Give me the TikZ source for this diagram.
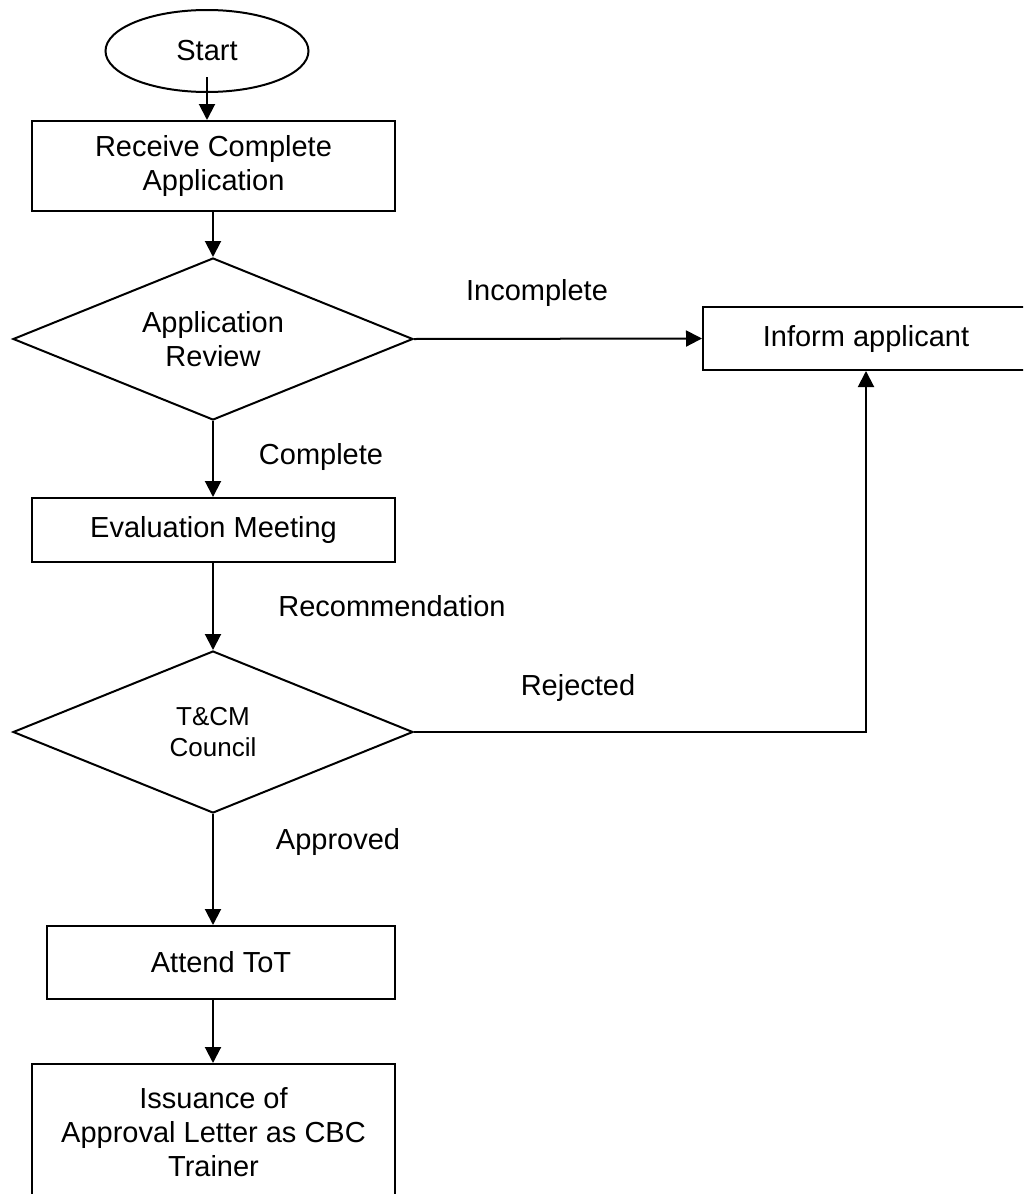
\documentclass[tikz,border=0pt]{standalone}
\usepackage{fontspec}
\setmainfont{Liberation Sans}
\usetikzlibrary{shapes.geometric,arrows.meta}

\begin{document}
\begin{tikzpicture}[x=0.5pt, y=-0.5pt,
    every node/.style={font=\fontsize{14.5}{17}\selectfont},
    stepbox/.style={draw, line width=1pt, rectangle, align=center, inner sep=0pt},
    decision/.style={draw, line width=1pt, diamond, aspect=2.47, align=center, inner sep=0pt,
        minimum width=200pt, minimum height=81pt},
    flow/.style={line width=1pt, -{Triangle[length=8pt, width=8pt]}}]
    \def\axis{213}

    % page frame
    \clip (0,0) rectangle (1023,1194);

    % Draw the boxes
    \node[draw, line width=1pt, ellipse, minimum width=101.5pt, minimum height=41pt, inner sep=0pt] (start) at (207,51) {Start};
    \node[stepbox, minimum width=181.5pt, minimum height=45pt] (receive) at (213.5,166) {Receive Complete\\Application};
    \node[decision] (review) at (\axis,339) {Application\\Review};
    \node[stepbox, minimum width=163pt, minimum height=31.5pt] (inform) at (866,338.5) {Inform applicant};
    \node[stepbox, minimum width=181.5pt, minimum height=32pt] (eval) at (213.5,530) {Evaluation Meeting};
    \node[decision, font=\fontsize{13}{15.5}\selectfont] (council) at (\axis,732) {T\&CM\\Council};
    \node[stepbox, minimum width=174pt, minimum height=36.5pt] (attend) at (221,962.5) {Attend ToT};
    \node[stepbox, minimum width=181.5pt, minimum height=68pt] (issue) at (213.5,1132) {Issuance of\\Approval Letter as CBC\\Trainer};

    % labels on the connectors
    \node (incomplete) at (537,293) {Incomplete};
    \node (complete) at (321,457) {Complete};
    \node (recommend) at (392,606) {Recommendation};
    \node (rejected) at (578,688) {Rejected};
    \node (approved) at (338,842) {Approved};

    % Draw the connectors
    \draw[flow] ([yshift=-13pt]start.center) -- (start.center |- receive.north);
    \draw[flow] (receive.south -| review.north) -- (review.north);
    \draw[flow] (review.east) -- (inform.west);
    \draw[flow] (review.south) -- (review.south |- eval.north);
    \draw[flow] (review.south |- eval.south) -- (council.north);
    \draw[flow] (council.east) -| (inform.south);
    \draw[flow] (council.south) -- (council.south |- attend.north);
    \draw[flow] (council.south |- attend.south) -- (council.south |- issue.north);
\end{tikzpicture}
\end{document}
